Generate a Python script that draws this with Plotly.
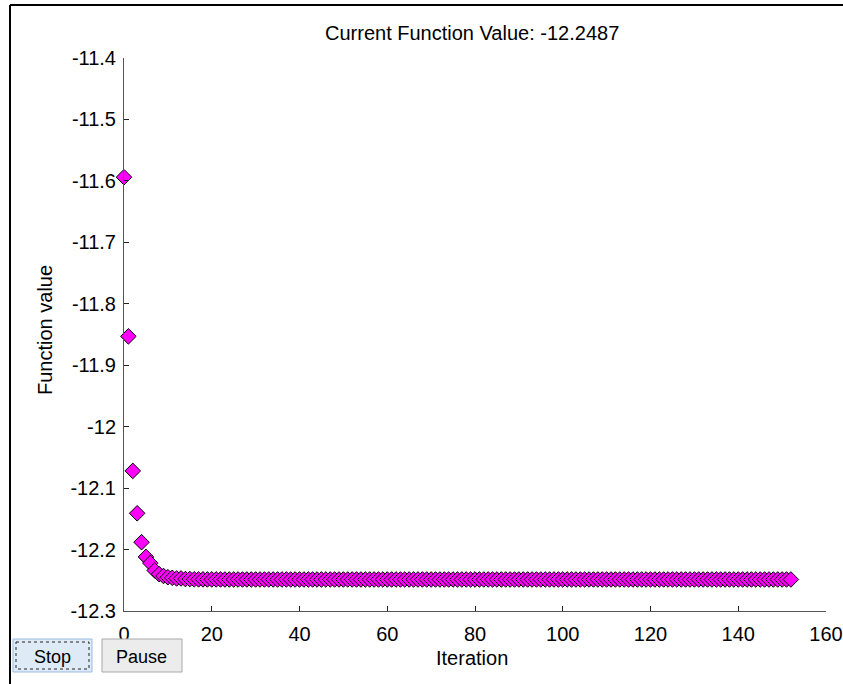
import plotly.graph_objects as go

iterations = list(range(0, 153))
function_values = [
    -11.594, -11.853, -12.072, -12.141, -12.188, -12.212, -12.222, -12.234, -12.240, -12.243,
    -12.245, -12.246, -12.247, -12.247, -12.248, -12.248, -12.2484, -12.2485, -12.2485, -12.2486,
    -12.2486, -12.2486, -12.2486, -12.2487, -12.2487, -12.2487, -12.2487, -12.2487, -12.2487, -12.2487,
    -12.2487, -12.2487, -12.2487, -12.2487, -12.2487, -12.2487, -12.2487, -12.2487, -12.2487, -12.2487,
    -12.2487, -12.2487, -12.2487, -12.2487, -12.2487, -12.2487, -12.2487, -12.2487, -12.2487, -12.2487,
    -12.2487, -12.2487, -12.2487, -12.2487, -12.2487, -12.2487, -12.2487, -12.2487, -12.2487, -12.2487,
    -12.2487, -12.2487, -12.2487, -12.2487, -12.2487, -12.2487, -12.2487, -12.2487, -12.2487, -12.2487,
    -12.2487, -12.2487, -12.2487, -12.2487, -12.2487, -12.2487, -12.2487, -12.2487, -12.2487, -12.2487,
    -12.2487, -12.2487, -12.2487, -12.2487, -12.2487, -12.2487, -12.2487, -12.2487, -12.2487, -12.2487,
    -12.2487, -12.2487, -12.2487, -12.2487, -12.2487, -12.2487, -12.2487, -12.2487, -12.2487, -12.2487,
    -12.2487, -12.2487, -12.2487, -12.2487, -12.2487, -12.2487, -12.2487, -12.2487, -12.2487, -12.2487,
    -12.2487, -12.2487, -12.2487, -12.2487, -12.2487, -12.2487, -12.2487, -12.2487, -12.2487, -12.2487,
    -12.2487, -12.2487, -12.2487, -12.2487, -12.2487, -12.2487, -12.2487, -12.2487, -12.2487, -12.2487,
    -12.2487, -12.2487, -12.2487, -12.2487, -12.2487, -12.2487, -12.2487, -12.2487, -12.2487, -12.2487,
    -12.2487, -12.2487, -12.2487, -12.2487, -12.2487, -12.2487, -12.2487, -12.2487, -12.2487, -12.2487,
    -12.2487, -12.2487, -12.2487,
]
x_ticks = [0, 20, 40, 60, 80, 100, 120, 140, 160]
y_ticks = [-12.3, -12.2, -12.1, -12.0, -11.9, -11.8, -11.7, -11.6, -11.5, -11.4]
y_tick_labels = ["-12.3", "-12.2", "-12.1", "-12", "-11.9", "-11.8", "-11.7", "-11.6", "-11.5", "-11.4"]
title_text = "Current Function Value: -12.2487"

W, H = 843, 684
L, R, T, B = 124, 826, 58, 611

def px(x):
    return (x - L) / (R - L)

def py(y):
    return (B - y) / (B - T)

FONT = "Liberation Sans, Arial, sans-serif"

fig = go.Figure()
fig.add_trace(go.Scatter(
    x=iterations, y=function_values, mode="markers",
    marker=dict(symbol="diamond", size=12, color="#ff00ff",
                line=dict(color="black", width=1)),
    cliponaxis=False, showlegend=False,
))

axis_color = "#555555"
fig.update_layout(
    width=W, height=H, autosize=False,
    margin=dict(l=L, r=W - R, t=T, b=H - B, pad=0, autoexpand=False),
    paper_bgcolor="white", plot_bgcolor="white",
    font=dict(family=FONT, size=20, color="black"),
    xaxis=dict(range=[0, 160], tickvals=x_ticks, ticks="inside", ticklen=5,
               tickcolor="#222222", showline=True, linecolor=axis_color, linewidth=1,
               showgrid=False, zeroline=False, mirror=False, ticklabelstandoff=5,
               automargin=False, tickfont=dict(size=20)),
    yaxis=dict(range=[-12.3, -11.4], tickvals=y_ticks, ticktext=y_tick_labels,
               ticks="inside", ticklen=5, tickcolor="#222222", showline=True,
               linecolor=axis_color, linewidth=1, showgrid=False, zeroline=False,
               mirror=False, ticklabelstandoff=3, automargin=False,
               tickfont=dict(size=20)),
    annotations=[
        dict(text=title_text, x=px(471.5), y=py(33.5), xref="paper", yref="paper",
             showarrow=False, font=dict(size=20), xanchor="center", yanchor="middle"),
        dict(text="Iteration", x=px(472), y=py(658), xref="paper", yref="paper",
             showarrow=False, font=dict(size=20), xanchor="center", yanchor="middle"),
        dict(text="Function value", x=px(45), y=py(330), xref="paper", yref="paper",
             showarrow=False, font=dict(size=20), textangle=-90,
             xanchor="center", yanchor="middle"),
        dict(text="Stop", x=px(52), y=py(657), xref="paper", yref="paper",
             showarrow=False, font=dict(size=18), xanchor="center", yanchor="middle"),
        dict(text="Pause", x=px(141), y=py(657), xref="paper", yref="paper",
             showarrow=False, font=dict(size=18), xanchor="center", yanchor="middle"),
    ],
    shapes=[
        dict(type="line", xref="paper", yref="paper", x0=px(10), x1=px(843),
             y0=py(5), y1=py(5), line=dict(color="black", width=2)),
        dict(type="line", xref="paper", yref="paper", x0=px(10), x1=px(10),
             y0=py(5), y1=py(684), line=dict(color="black", width=2)),
        dict(type="rect", xref="paper", yref="paper", x0=px(13), x1=px(92),
             y0=py(639), y1=py(672), fillcolor="#dfeaf7",
             line=dict(color="#9bbbe0", width=1)),
        dict(type="rect", xref="paper", yref="paper", x0=px(16), x1=px(89),
             y0=py(642), y1=py(669), fillcolor="rgba(0,0,0,0)",
             line=dict(color="#222222", width=1, dash="dot")),
        dict(type="rect", xref="paper", yref="paper", x0=px(102), x1=px(182),
             y0=py(639), y1=py(672), fillcolor="#ececec",
             line=dict(color="#a8a8a8", width=1)),
    ],
)

fig.write_html("out.html", config={"displayModeBar": False},
               post_script="document.body.style.margin='0';document.body.style.overflow='hidden';")
